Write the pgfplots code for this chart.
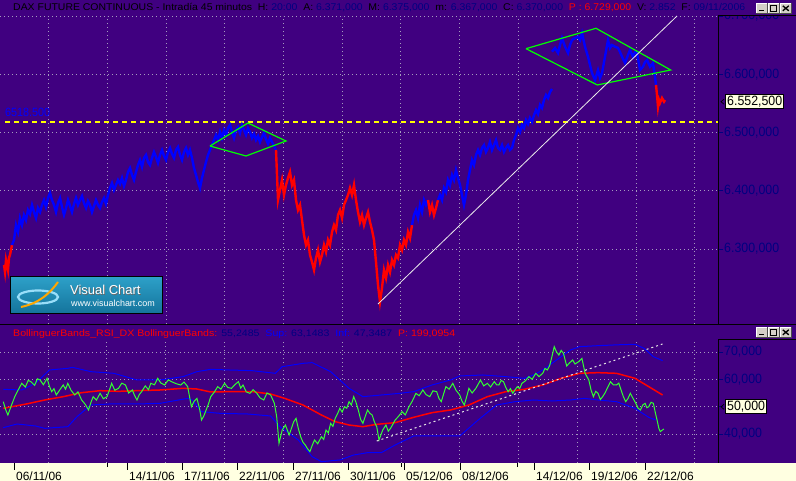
\documentclass[border=0pt]{standalone}
\usepackage{graphicx}
\usepackage{pgfplots}
\pgfplotsset{compat=1.18}
\usepackage{fontspec}
\setmainfont{Liberation Sans}
\definecolor{bgp}{RGB}{64,0,128}
\definecolor{navy}{RGB}{0,0,128}
\definecolor{gridc}{RGB}{165,155,190}
\definecolor{stripc}{RGB}{255,255,225}
\definecolor{pblue}{RGB}{0,0,255}
\definecolor{lime}{RGB}{0,255,0}
\definecolor{yel}{RGB}{255,255,0}
\definecolor{rsig}{RGB}{50,255,50}
\definecolor{btn}{RGB}{212,208,200}
\definecolor{vcA}{RGB}{45,160,200}
\definecolor{vcB}{RGB}{20,115,155}
\newcommand\lab[1]{\scalebox{0.92}[1]{\fontsize{13.5}{14}\selectfont #1}}
\newcommand\nv[1]{\textcolor{navy}{#1}}
\newcommand\winbtns[1]{%
  \foreach \bx in {756,768,780}{%
    \fill[btn] (\bx,#1) rectangle ++(11.5,10);
    \draw[white,line width=0.8] (\bx,#1) -- ++(0,10) -- ++(11.5,0);
    \draw[black!70,line width=0.8] (\bx+11.5,#1+10) -- (\bx+11.5,#1) -- (\bx,#1);}
  \fill[black] (759,#1+2) rectangle (764,#1+3.5);
  \draw[black,line width=0.8] (770.7,#1+2.2) rectangle (776.8,#1+8);
  \fill[black] (770.7,#1+7) rectangle (776.8,#1+8.4);
  \draw[black,line width=1.3] (782.8,#1+2.5)--(788.8,#1+7.5) (782.8,#1+7.5)--(788.8,#1+2.5);
}
\pgfplotsset{panel/.style={anchor=south west, scale only axis, width=718bp,
  axis line style={draw=none},
  xticklabels={{},{},{},{},{},{},{},{},{},{},{},{}},
  xticklabel style={text opacity=0}, xtick style={draw=none},
  ytick pos=right, yticklabel pos=right, tick align=outside, major tick length=5bp,
  ytick style={navy,line width=0.8bp}, grid=major,
  grid style={gridc,line width=0.9bp,dash pattern=on 1bp off 3bp},
  yticklabel style={anchor=west,inner sep=1bp,text=navy}}}
\begin{document}
\begin{tikzpicture}
\begin{scope}[x=1bp,y=1bp]
\fill[bgp] (0,0) rectangle (796,481);
\fill[stripc] (0,0) rectangle (796,18);
\end{scope}

% ---------- price panel ----------
\begin{axis}[panel, at={(0bp,157bp)}, height=308bp,
  xmin=0, xmax=718, ymin=6171.3, ymax=6700,
  xtick={48,107,166,224,283,342,400.8,459.6,518.4,577.2,636,694.8},
  ytick={6300,6400,6500,6600,6700},
  yticklabels={{\lab{6.300,000}},{\lab{6.400,000}},{\lab{6.500,000}},{\lab{6.600,000}},{\lab{6.700,000}}}]
\addplot[yel,line width=1.8bp,dash pattern=on 5bp off 4bp] coordinates {(5,6518.5)(718,6518.5)};
\addplot[red,line width=2.4bp] coordinates {(4,6272.6)(5,6260.5)(6,6281.1)(7,6272.6)(8,6264.0)(9,6285.0)(10,6290.0)(11,6298.3)(12,6306.9)};
\addplot[pblue,line width=2.4bp] coordinates {(12,6306.9)(14,6315.5)(16,6341.2)(18,6329.2)(20,6353.2)(22,6341.2)(24,6358.4)(26,6349.8)(28,6367.0)(30,6360.1)(32,6375.6)(34,6363.5)(36,6353.2)(38,6370.4)(40,6363.5)(42,6375.6)(44,6384.1)(46,6372.1)(48,6387.6)(50,6396.2)(52,6384.1)(54,6375.6)(56,6363.5)(58,6379.0)(60,6387.6)(62,6372.1)(64,6358.4)(66,6370.4)(68,6384.1)(70,6373.8)(72,6363.5)(74,6377.3)(76,6387.6)(78,6375.6)(80,6384.1)(82,6391.0)(84,6379.0)(86,6370.4)(88,6382.4)(90,6375.6)(92,6363.5)(94,6373.8)(96,6384.1)(98,6375.6)(100,6370.4)(102,6380.7)(104,6387.6)(106,6377.3)(108,6392.7)(110,6404.8)(112,6413.3)(114,6401.3)(116,6409.9)(118,6418.5)(120,6411.6)(122,6421.9)(124,6408.2)(126,6418.5)(128,6432.2)(130,6439.1)(132,6427.1)(134,6418.5)(136,6432.2)(138,6444.2)(140,6452.8)(142,6440.8)(144,6456.3)(146,6461.4)(148,6449.4)(150,6444.2)(152,6456.3)(154,6466.5)(156,6458.0)(158,6447.7)(160,6461.4)(162,6470.0)(164,6459.7)(166,6452.8)(168,6466.5)(170,6473.4)(172,6463.1)(174,6456.3)(176,6470.0)(178,6475.1)(180,6461.4)(182,6452.8)(184,6466.5)(186,6473.4)(188,6461.4)(190,6470.0)(192,6456.3)(194,6439.1)(196,6427.1)(198,6415.1)(200,6404.8)(202,6421.9)(204,6435.6)(206,6449.4)(208,6461.4)(210,6470.0)(212,6478.5)(214,6487.1)(216,6495.7)(218,6487.1)(220,6500.9)(222,6490.6)(224,6504.3)(226,6495.7)(228,6507.7)(230,6512.9)(232,6500.9)(234,6490.6)(236,6504.3)(238,6509.5)(240,6499.2)(242,6512.9)(244,6504.3)(246,6495.7)(248,6507.7)(250,6500.9)(252,6490.6)(254,6497.5)(256,6487.1)(258,6494.0)(260,6483.7)(262,6492.3)(264,6499.2)(266,6488.9)(268,6480.3)(270,6490.6)(272,6483.7)(274,6476.8)(276,6470.0)};
\addplot[red,line width=2.4bp] coordinates {(276,6470.0)(277,6427.1)(278,6384.1)(280,6401.3)(282,6418.5)(284,6392.7)(286,6409.9)(288,6421.9)(290,6432.2)(292,6409.9)(294,6418.5)(296,6384.1)(298,6367.0)(300,6375.6)(302,6349.8)(304,6324.1)(306,6306.9)(308,6315.5)(310,6289.7)(312,6277.7)(314,6264.0)(316,6284.6)(318,6298.3)(320,6277.7)(322,6289.7)(324,6306.9)(326,6294.9)(328,6315.5)(330,6306.9)(332,6329.2)(334,6341.2)(336,6332.6)(338,6358.4)(340,6367.0)(342,6353.2)(344,6375.6)(346,6384.1)(348,6392.7)(350,6404.8)(352,6392.7)(354,6409.9)(356,6384.1)(358,6363.5)(360,6346.4)(362,6358.4)(364,6341.2)(366,6353.2)(368,6363.5)(370,6346.4)(372,6332.6)(374,6315.5)(376,6277.7)(378,6238.2)(380,6209.1)(382,6233.1)(384,6264.0)(386,6250.3)(388,6272.6)(390,6260.5)(392,6281.1)(394,6272.6)(396,6289.7)(398,6284.6)(400,6306.9)(402,6298.3)(404,6315.5)(406,6306.9)(408,6329.2)(410,6318.9)(412,6341.2)};
\addplot[pblue,line width=2.4bp] coordinates {(412,6341.2)(414,6358.4)(416,6367.0)(418,6353.2)(420,6375.6)(422,6363.5)(424,6384.1)(426,6375.6)(428,6384.1)};
\addplot[red,line width=2.4bp] coordinates {(428,6384.1)(430,6363.5)(432,6375.6)(434,6358.4)(436,6370.4)(438,6384.1)};
\addplot[pblue,line width=2.4bp] coordinates {(438,6384.1)(440,6392.7)(442,6384.1)(444,6404.8)(446,6397.9)(448,6418.5)(450,6409.9)(452,6427.1)(454,6418.5)(456,6435.6)(458,6421.9)(460,6409.9)(462,6392.7)(464,6375.6)(466,6392.7)(468,6418.5)(470,6435.6)(472,6452.8)(474,6444.2)(476,6461.4)(478,6470.0)(480,6461.4)(482,6473.4)(484,6478.5)(486,6466.5)(488,6473.4)(490,6483.7)(492,6470.0)(494,6478.5)(496,6487.1)(498,6473.4)(500,6470.0)(502,6478.5)(504,6466.5)(506,6473.4)(508,6478.5)(510,6470.0)(512,6473.4)(514,6487.1)(516,6495.7)(518,6507.7)(520,6500.9)(522,6512.9)(524,6507.7)(526,6521.5)(528,6514.6)(530,6524.9)(532,6518.1)(534,6530.0)(536,6538.6)(538,6531.8)(540,6547.2)(542,6542.1)(544,6555.8)(546,6564.4)(548,6559.2)(550,6569.6)(552,6574.7)};
\addplot[pblue,line width=2.4bp] coordinates {(552,6638.7)(555,6645.1)(558,6636.5)(560,6650.2)(562,6662.2)(565,6647.3)(568,6636.5)(570,6650.2)(572,6658.8)(575,6662.2)(578,6664.5)(580,6658.8)(582,6670.8)(585,6647.3)(588,6630.1)(590,6615.9)(592,6602.1)(595,6590.1)(598,6607.3)(600,6593.6)(602,6602.1)(605,6630.1)(608,6658.8)(610,6645.1)(612,6650.2)(615,6647.3)(618,6645.1)(620,6638.2)(622,6630.1)(625,6619.3)(628,6633.1)(630,6641.6)(633,6630.1)(635,6638.2)(637,6636.5)(640,6607.3)(643,6613.0)(645,6621.1)(647,6624.5)(650,6613.0)(653,6619.3)(655,6595.8)(656,6581.6)};
\addplot[red,line width=2.4bp] coordinates {(656,6581.6)(657,6564.4)(658,6544.3)(659,6555.8)(660,6550.7)(662,6559.2)(664,6552.9)(665,6555.8)};
\addplot[lime,line width=1.2bp] coordinates {(210,6476.8)(248,6516.3)(286,6485.4)(246,6459.7)(210,6476.8)};
\addplot[lime,line width=1.2bp] coordinates {(526,6643.9)(596,6678.9)(670.7,6607.3)(597.3,6581.6)(526,6643.9)};
\addplot[white!85!gray,line width=0.8bp] coordinates {(378,6205.6)(677,6700)};
\end{axis}

% ---------- indicator panel ----------
\begin{axis}[panel, at={(0bp,18bp)}, height=123bp,
  xmin=2.9, xmax=1560.2, ymin=29.39, ymax=74.39,
  xtick={107,233,362,490,617,745,873,1000,1127,1255,1383,1510},
  ytick={40,50,60,70},
  yticklabels={{\lab{40,000}},{},{\lab{60,000}},{\lab{70,000}}}]
\addplot[pblue,line width=1bp] coordinates {(10,56.34)(50,56.10)(80,58.54)(110,63.42)(150,64.02)(160,64.39)(200,62.81)(250,62.20)(300,59.76)(350,59.76)(400,60.98)(430,62.81)(460,63.66)(500,63.42)(550,63.17)(600,62.20)(615,64.63)(660,65.85)(680,66.10)(720,62.81)(760,56.71)(790,53.66)(830,54.27)(870,54.88)(900,55.49)(940,57.93)(980,59.76)(1000,61.22)(1050,61.59)(1100,60.98)(1140,60.37)(1160,61.59)(1180,63.42)(1200,65.85)(1220,68.29)(1240,70.73)(1260,71.95)(1300,72.32)(1350,72.68)(1380,72.81)(1400,71.34)(1420,68.29)(1440,66.83)};
\addplot[pblue,line width=1bp] coordinates {(10,42.32)(40,43.66)(80,42.93)(100,42.07)(150,42.68)(170,46.34)(200,50.61)(240,50.98)(300,50.98)(350,51.22)(410,53.05)(420,52.44)(440,48.17)(480,47.56)(540,47.32)(590,46.59)(610,42.68)(650,37.81)(680,31.71)(700,29.88)(740,30.49)(770,32.32)(800,33.17)(830,33.17)(860,35.98)(900,39.27)(950,39.27)(1000,39.27)(1040,45.12)(1080,50.61)(1120,51.83)(1160,52.44)(1200,52.07)(1240,52.44)(1270,53.05)(1300,52.44)(1340,51.83)(1380,49.39)(1410,46.10)(1425,45.12)};
\addplot[red,line width=1.5bp] coordinates {(10,49.39)(60,50.98)(100,52.44)(140,53.66)(180,55.12)(220,55.85)(260,55.61)(300,55.85)(350,56.10)(400,56.71)(430,56.46)(460,55.37)(500,55.49)(550,55.49)(590,54.63)(620,53.05)(660,50.61)(700,46.95)(730,44.51)(760,43.29)(790,42.68)(820,43.54)(860,44.15)(900,46.10)(940,47.81)(980,48.78)(1020,50.61)(1060,53.66)(1100,55.49)(1140,56.34)(1180,57.93)(1220,60.37)(1260,62.20)(1300,62.44)(1340,62.20)(1380,60.37)(1410,57.32)(1440,54.27)};
\addplot[rsig,line width=1bp] coordinates {(10,51.83)(15,49.0)(20,46.95)(27,50.2)(35,53.66)(42,56.0)(50,58.54)(58,57.2)(64,59.6)(70,59.15)(78,57.8)(84,60.2)(90,59.76)(97,58.0)(105,60.37)(110,57.5)(115,55.49)(120,56.6)(125,54.27)(132,56.0)(140,57.93)(145,56.4)(150,58.54)(157,56.0)(165,54.27)(172,55.4)(180,52.44)(188,50.8)(195,48.78)(200,51.5)(205,53.66)(212,52.4)(220,54.88)(227,52.9)(235,53.66)(240,56.0)(245,58.54)(252,56.0)(260,56.71)(267,58.6)(275,57.93)(282,55.0)(290,56.10)(295,54.0)(300,52.44)(305,54.4)(310,55.49)(318,57.6)(325,56.2)(330,58.54)(338,58.0)(345,60.37)(352,58.6)(360,57.93)(368,59.8)(375,59.15)(385,58.4)(395,57.93)(402,59.0)(410,57.32)(418,50.00)(424,52.0)(430,53.05)(436,49.0)(440,45.12)(445,46.6)(450,48.78)(455,51.0)(460,53.66)(468,55.4)(475,57.32)(482,56.4)(490,58.54)(497,57.0)(505,56.71)(512,58.0)(520,59.15)(525,56.8)(530,57.93)(537,55.4)(545,54.88)(552,56.2)(560,54.88)(567,53.2)(575,52.44)(582,55.0)(590,54.27)(598,51.22)(603,46.34)(608,36.59)(615,41.46)(622,43.29)(630,39.63)(640,44.51)(645,45.73)(650,42.0)(655,39.02)(660,37.0)(665,35.98)(670,34.6)(675,33.54)(680,35.8)(685,37.81)(692,36.4)(700,39.02)(705,38.0)(710,41.46)(715,40.4)(720,43.90)(725,42.8)(730,45.73)(735,47.4)(740,49.39)(745,48.0)(750,50.00)(755,49.4)(760,51.83)(765,50.6)(770,53.66)(775,51.6)(780,48.78)(785,45.4)(790,43.90)(795,46.4)(800,48.78)(805,47.6)(810,46.95)(815,44.4)(820,42.68)(825,37.81)(833,41.46)(840,43.29)(845,41.0)(850,42.07)(855,43.6)(860,45.12)(867,46.4)(875,48.17)(882,47.0)(890,50.00)(897,52.0)(905,54.88)(912,54.0)(920,56.10)(927,54.4)(935,53.66)(942,55.8)(950,55.49)(955,53.0)(960,51.83)(965,54.6)(970,57.32)(977,56.4)(985,58.54)(992,56.0)(1000,54.27)(1005,52.0)(1010,50.61)(1015,53.6)(1020,56.71)(1027,55.0)(1035,56.71)(1040,58.2)(1045,59.76)(1052,57.6)(1060,58.54)(1067,57.2)(1075,59.15)(1080,58.0)(1085,57.93)(1090,59.6)(1095,59.15)(1100,57.0)(1105,55.49)(1110,56.6)(1115,54.88)(1120,56.2)(1125,57.32)(1130,56.6)(1135,58.54)(1142,59.4)(1150,60.98)(1157,60.0)(1165,62.20)(1172,61.0)(1180,62.20)(1185,64.0)(1190,63.42)(1195,65.0)(1200,68.29)(1205,71.95)(1210,70.0)(1215,68.90)(1220,70.6)(1225,69.51)(1232,64.88)(1238,66.0)(1245,67.07)(1250,65.6)(1258,66.46)(1265,67.68)(1272,62.20)(1280,59.76)(1285,56.0)(1290,53.66)(1295,55.6)(1300,54.88)(1305,52.6)(1310,53.66)(1315,55.0)(1320,56.71)(1327,59.15)(1333,58.0)(1340,57.93)(1345,58.6)(1350,56.10)(1355,53.6)(1360,51.83)(1365,53.0)(1370,54.88)(1376,53.0)(1382,51.22)(1387,49.4)(1392,48.78)(1397,50.6)(1402,51.22)(1406,49.6)(1410,50.00)(1415,51.6)(1420,51.22)(1424,48.0)(1428,45.12)(1432,42.0)(1435,40.85)(1439,41.4)(1443,41.83)};
\addplot[white!80!gray,line width=1bp,dash pattern=on 2bp off 3bp] coordinates {(820,37.44)(1440,72.93)};
\end{axis}

% ---------- date strip ----------
\begin{axis}[at={(0bp,0bp)}, anchor=south west, scale only axis, width=718bp, height=18bp,
  xmin=0, xmax=718, ymin=0, ymax=1, axis line style={draw=none}, ytick=\empty,
  xtick={14,127,182,237,293,348,404,460,534,589,645},
  xticklabels={06/11/06,14/11/06,17/11/06,22/11/06,27/11/06,30/11/06,05/12/06,08/12/06,14/12/06,19/12/06,22/12/06},
  xtick pos=upper, xticklabel pos=lower, tick align=inside, major tick length=7bp,
  xtick style={black,line width=1bp},
  extra x ticks={107,401,517}, extra x tick labels={{},{},{}}, extra x tick style={major tick length=4bp},
  xticklabel style={anchor=base west,inner sep=0pt,xshift=2bp,yshift=1bp,font=\fontsize{12}{12}\selectfont}]
\end{axis}

\begin{scope}[x=1bp,y=1bp]
\fill[bgp] (718.5,465.5) rectangle (796,481);
\draw[black,line width=1bp] (0,156.3) -- (796,156.3);
\draw[black,line width=1bp] (718,465) -- (718,156.3) (718,465) -- (796,465);
\draw[black,line width=1bp] (718,141) -- (718,18) (718,141) -- (796,141);
\node[anchor=base west,inner sep=0] at (13,470.3) {\resizebox{732bp}{7.2bp}{DAX FUTURE CONTINUOUS - Intradía 45 minutos\ \ H: \nv{20:00}\ \ A: \nv{6.371,000}\ \ M: \nv{6.375,000}\ \ m: \nv{6.367,000}\ \ C: \nv{6.370,000}\ \ \textcolor{red}{P : 6.729,000}\ \ V: \nv{2.852}\ \ F: \nv{09/11/2006}}};
\node[anchor=base west,inner sep=0] at (13,144.7) {\resizebox{442bp}{6.8bp}{\textcolor{red}{BollinguerBands\_RSI\_DX BollinguerBands:} \nv{55,2485}\ \ \textcolor{pblue}{Sup:} \nv{63,1483}\ \ \textcolor{pblue}{Inf:} \nv{47,3487}\ \ \textcolor{red}{P: 199,0954}}};
\winbtns{467.7}
\winbtns{143.7}
\node[anchor=west,inner sep=0,text=pblue] at (5,368.5) {\scalebox{0.9}[1]{\fontsize{12}{12}\selectfont 6518.500}};
\node[draw=black,fill=stripc,inner sep=1.5bp,anchor=west,line width=0.8bp] at (725.3,379.3) {\lab{6.552,500}};
\draw[black,line width=0.7bp] (724,381.8) -- (721,379.3) -- (724,376.8);
\node[draw=black,fill=stripc,inner sep=1.5bp,anchor=west,line width=0.8bp] at (725.3,74.2) {\lab{50,000}};
\draw[black,line width=0.7bp] (724,76.7) -- (721,74.2) -- (724,71.7);
% logo
\shade[top color=vcA,bottom color=vcB,draw=black,line width=1bp] (10,167) rectangle (162,204);
\draw[cyan!40!white,line width=2.2bp] (38,184) ellipse [x radius=20, y radius=6.5];
\draw[orange!70!yellow,line width=2bp] (21,174) .. controls (40,178) and (50,188) .. (58,199);
\node[anchor=west,inner sep=0,text=black!60] at (70.8,190.3) {\fontsize{13}{13}\selectfont Visual Chart};
\node[anchor=west,inner sep=0,text=white] at (70,191) {\fontsize{13}{13}\selectfont Visual Chart};
\node[anchor=west,inner sep=0,text=white] at (71,177.7) {\fontsize{9}{9}\selectfont www.visualchart.com};
\end{scope}
\pgfresetboundingbox
\path[use as bounding box] (0,0) rectangle (796bp,481bp);
\end{tikzpicture}
\end{document}
